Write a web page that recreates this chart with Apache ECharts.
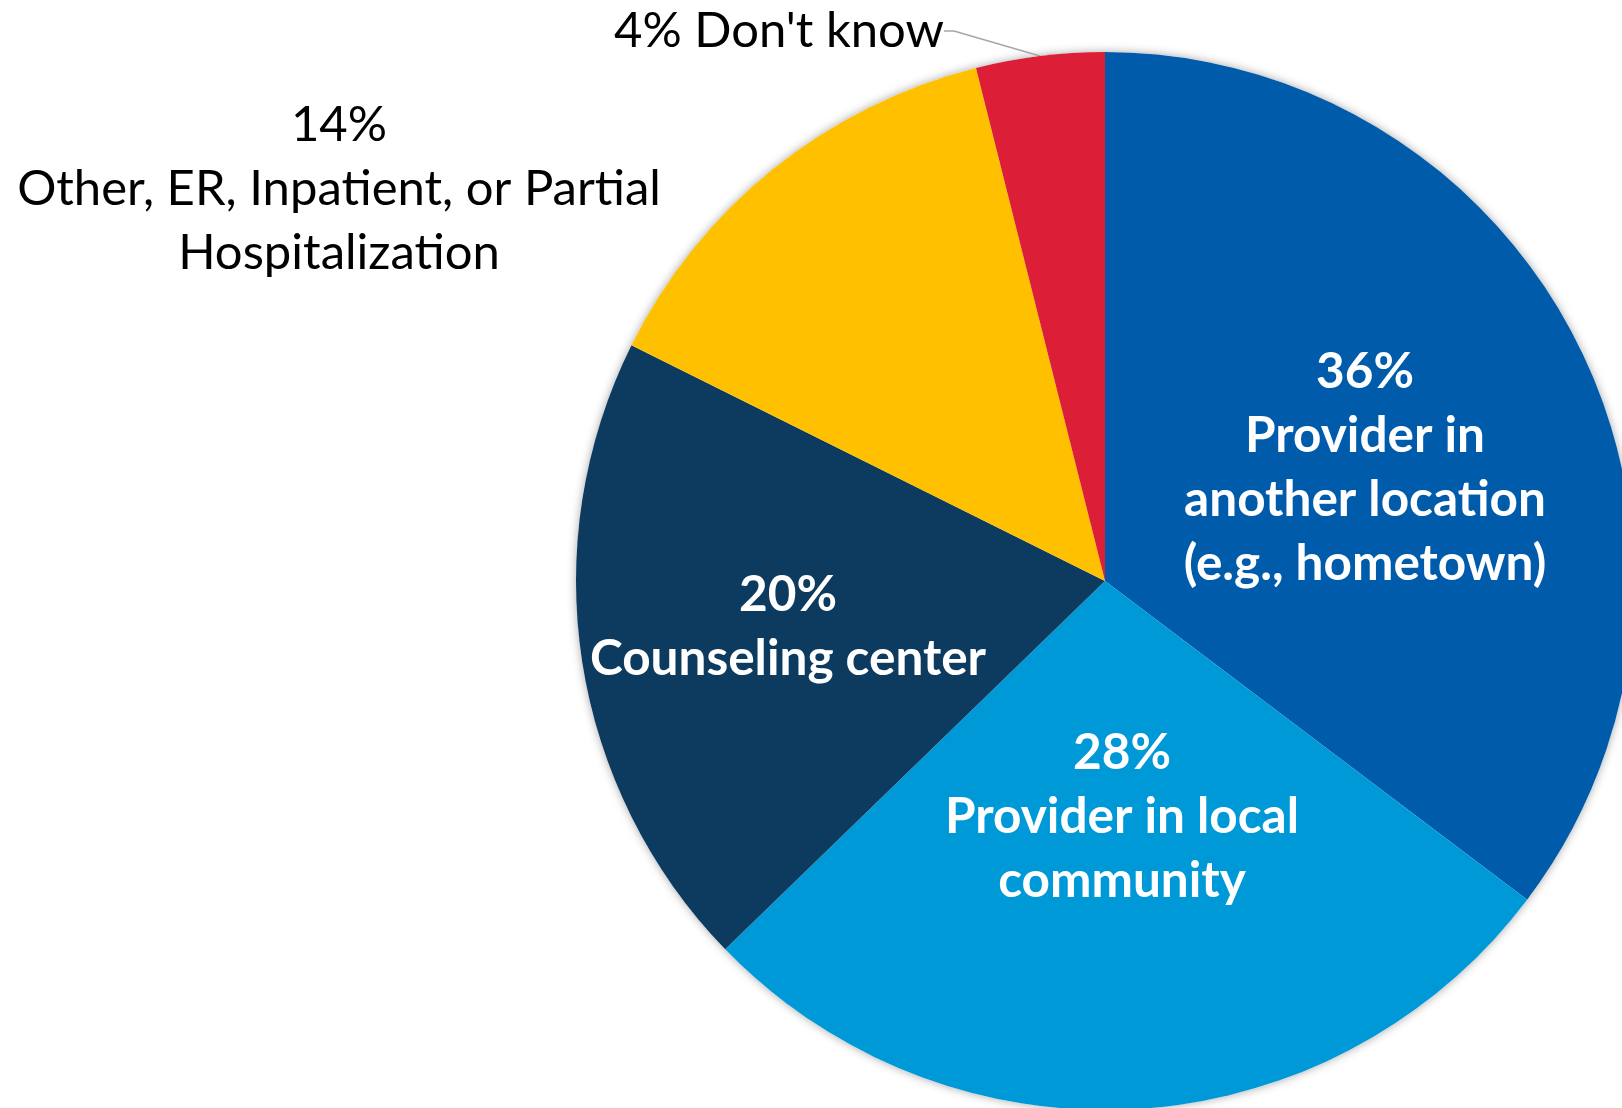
<!DOCTYPE html>
<html>
<head>
<meta charset="utf-8">
<script src="https://cdn.jsdelivr.net/npm/echarts@6/dist/echarts.min.js"></script>
<style>
  html, body { margin: 0; padding: 0; background: #fff; }
  #chart { width: 1622px; height: 1108px; }
</style>
</head>
<body>
<div id="chart"></div>
<script>
// slices, clockwise from 12 o'clock
var categories = [
  'Provider in\nanother location\n(e.g., hometown)',
  'Provider in local\ncommunity',
  'Counseling center',
  'Other, ER, Inpatient, or Partial\nHospitalization',
  "Don't know"
]
var values = [36, 28, 20, 14, 4]
var colors = ['#005BAA', '#0099D8', '#0D3A5F', '#FFC000', '#DC1E37']

// where each label block is centered
var labelPos = [[1365, 468], [1122, 817], [788, 627], [339, 189], [779, 31]]

var fontFam = 'Lato, "Open Sans", sans-serif'

var myChart = echarts.init(document.getElementById('chart'))

var data = values.map(function (v, i) {
  var outside = i >= 3
  return {
    name: categories[i],
    value: v,
    itemStyle: { color: colors[i] },
    label: {
      position: outside ? 'outside' : 'inside',
      formatter: i === 4 ? '{c}% {b}' : '{c}%\n{b}',
      color: outside ? '#000' : '#fff',
      fontWeight: outside ? 'normal' : 'bold',
      fontSize: outside ? 49 : 49.5,
      lineHeight: i === 4 ? 40 : 64,
      // extra bottom room so the leader line leaves below the text, like the original
      padding: i === 4 ? [0, 0, 40, 0] : 0
    },
    labelLine: { show: i === 4 }
  }
})

var option = {
  animation: false,
  series: [
    {
      // soft shadow behind the whole pie
      type: 'pie',
      silent: true,
      center: [1105, 581],
      radius: 529,
      z: 1,
      label: { show: false },
      labelLine: { show: false },
      itemStyle: {
        color: '#fff',
        shadowBlur: 10,
        shadowColor: 'rgba(0,0,0,0.35)'
      },
      data: [1]
    },
    {
      type: 'pie',
      center: [1105, 581],
      radius: 529,
      startAngle: 90,
      clockwise: true,
      z: 2,
      label: {
        show: true,
        fontFamily: fontFam,
        align: 'center'
      },
      labelLine: {
        show: false,
        length: 10,
        length2: 10,
        lineStyle: { color: '#A6A6A6', width: 1.5 }
      },
      labelLayout: function (params) {
        var p = labelPos[params.dataIndex]
        return { x: p[0], y: p[1], align: 'center', verticalAlign: 'middle' }
      },
      data: data
    }
  ]
}
myChart.setOption(option)
</script>
</body>
</html>
